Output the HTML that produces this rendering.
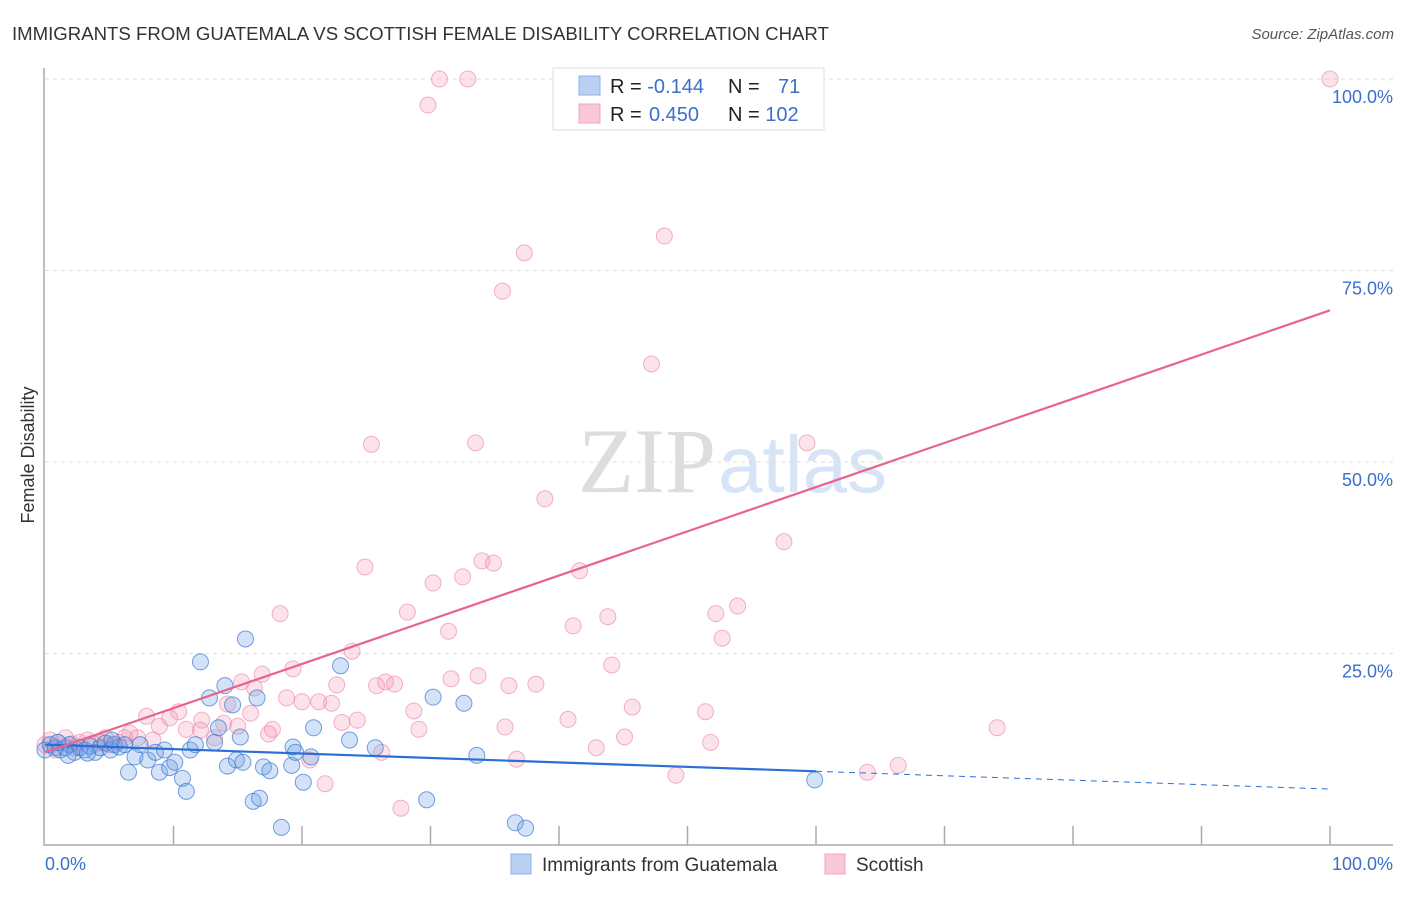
<!DOCTYPE html>
<html><head><meta charset="utf-8"><style>
body{margin:0;background:#fff;font-family:"Liberation Sans",sans-serif;}
svg text{font-family:"Liberation Sans",sans-serif;}
</style></head><body>
<svg width="1406" height="892" xmlns="http://www.w3.org/2000/svg">
<text x="12" y="40" font-size="18.6" fill="#333">IMMIGRANTS FROM GUATEMALA VS SCOTTISH FEMALE DISABILITY CORRELATION CHART</text>
<text x="1394" y="39" font-size="15" fill="#555" font-style="italic" text-anchor="end">Source: ZipAtlas.com</text>
<text x="716" y="492" font-size="92" fill="#ddd" text-anchor="end" style="font-family:'Liberation Serif',serif">ZIP</text>
<text x="718" y="492" font-size="80" fill="#d6e4f6">atlas</text>
<g id="grid"></g>
<g id="axes"></g>
<text transform="translate(34,455) rotate(-90)" font-size="18" fill="#333" text-anchor="middle">Female Disability</text>
<g id="pts"></g>
<g id="lines"></g>
<g>
<rect x="553" y="68" width="271" height="62" fill="#fff" stroke="#ddd"/>
<rect x="579" y="76" width="21" height="19" fill="#b9d0f3" stroke="#8fb2e8"/>
<rect x="579" y="104" width="21" height="19" fill="#f9c8d6" stroke="#f0a4bb"/>
<text x="610" y="93" font-size="20" fill="#222">R = <tspan fill="#3a6fcc">-0.144</tspan></text>
<text x="728" y="93" font-size="20" fill="#222">N = <tspan fill="#3a6fcc" x="778">71</tspan></text>
<text x="610" y="121" font-size="20" fill="#222">R = <tspan fill="#3a6fcc" x="649">0.450</tspan></text>
<text x="728" y="121" font-size="20" fill="#222">N = <tspan fill="#3a6fcc">102</tspan></text>
</g>
<g>
<rect x="511" y="854" width="20" height="20" fill="#b9d0f3" stroke="#8fb2e8"/>
<text x="542" y="871" font-size="19" fill="#333">Immigrants from Guatemala</text>
<rect x="825" y="854" width="20" height="20" fill="#f9c8d6" stroke="#f0a4bb"/>
<text x="856" y="871" font-size="19" fill="#333">Scottish</text>
</g>
</svg>
<script>
const yTicks=[25,50,75,100];
const yTickLabels=["25.0%","50.0%","75.0%","100.0%"];
const xTickLabels=["0.0%","100.0%"];
const blueX=[0,0.4,0.8,1.2,1.6,1.9,2.3,2.7,3.1,3.5,3.9,4.3,4.7,5.1,5.4,5.8,6.5,7.0,7.4,8.0,8.6,8.9,9.3,9.7,10.1,10.7,11.0,11.3,11.7,12.1,12.8,13.2,13.5,14.0,14.2,14.6,14.9,15.2,15.4,15.6,16.2,16.5,16.7,17.0,17.5,18.4,19.3,19.2,19.5,20.1,20.7,20.9,23.0,23.7,25.7,29.7,30.2,32.6,33.6,36.6,37.4,59.9,1.0,1.8,3.3,5.2,6.2];
const blueY=[12.4,13.1,12.7,12.4,12.7,13.1,12.1,12.7,12.4,12.9,12.1,12.7,13.3,12.4,13.1,12.8,9.5,11.5,13.1,11.1,12.1,9.5,12.4,10.1,10.8,8.7,7.0,12.4,13.1,23.9,19.2,13.4,15.3,20.8,10.3,18.3,11.1,14.1,10.8,26.9,5.7,19.2,6.1,10.2,9.7,2.3,12.8,10.4,12.1,8.2,11.5,15.3,23.4,13.7,12.7,5.9,19.3,18.5,11.7,2.9,2.2,8.5,13.4,11.7,12.0,13.7,13.1];
const pinkX=[100,30.7,32.9,55.3,29.8,48.2,37.3,35.6,47.2,25.4,33.5,59.3,38.9,57.5,24.9,34.0,34.9,41.6,30.2,32.5,28.2,18.3,53.9,52.2,43.8,41.1,31.4,52.7,23.9,44.1,19.3,16.9,33.7,31.6,38.2,36.1,25.8,26.5,27.2,22.7,15.3,16.3,18.8,20.0,21.3,22.3,14.2,45.7,28.7,51.4,10.4,7.9,9.7,16.0,12.2,40.7,24.3,23.1,13.9,15.0,8.9,11.0,35.8,17.7,29.1,74.1,17.4,6.6,6.2,8.4,45.1,51.8,42.9,26.2,20.6,36.7,66.4,64.0,49.1,21.8,27.7,0.4,1.0,1.6,2.1,2.7,3.3,3.9,4.4,5.1,5.7,7.2,0,0.8,2.3,4.7,12.1,13.2];
const pinkY=[100,100,100,100,96.6,79.5,77.3,72.3,62.8,52.3,52.5,52.5,45.2,39.6,36.3,37.1,36.8,35.8,34.2,35.0,30.4,30.2,31.2,30.2,29.8,28.6,27.9,27.0,25.3,23.5,23.0,22.3,22.1,21.7,21.0,20.8,20.8,21.3,21.0,20.9,21.3,20.5,19.2,18.7,18.7,18.5,18.4,18.0,17.5,17.4,17.4,16.8,16.6,17.2,16.3,16.4,16.3,16.0,15.9,15.5,15.5,15.1,15.4,15.1,15.1,15.3,14.5,14.6,14.0,13.7,14.1,13.4,12.7,12.1,11.1,11.2,10.4,9.5,9.1,8.0,4.8,13.7,13.4,14.0,13.2,13.4,13.7,13.1,13.4,13.1,13.4,14.0,13.1,12.4,12.7,14.0,15.0,14.0];
const blueFit=[13.1,-0.058]; const blueSolidEnd=60;
const pinkFit=[12.1,0.577];
const X=v=>45+v*12.85, Y=v=>845-v*7.66;
const NS="http://www.w3.org/2000/svg";
function mk(t,a,p){const e=document.createElementNS(NS,t);for(const k in a)e.setAttribute(k,a[k]);p.appendChild(e);return e;}
const grid=document.getElementById('grid'),axes=document.getElementById('axes');
yTicks.forEach((t,i)=>{
 const l=mk('line',{x1:45,x2:1393,y1:Y(t),y2:Y(t),stroke:'#ddd','stroke-dasharray':'4,4'},grid);
 
 
 const tx=mk('text',{x:1393,y:Y(t)+24,'font-size':18,fill:'#3a6fcc','text-anchor':'end'},axes);
 tx.textContent=yTickLabels[i];
 
 
});
const ax=mk('path',{d:'M44,68 L44,845 L1393,845',fill:'none',stroke:'#aaa','stroke-width':1.5},axes);


for(let k=1;k<=10;k++){const t=mk('line',{x1:X(k*10),x2:X(k*10),y1:826,y2:845,stroke:'#aaa','stroke-width':1.5},axes);
 
 }
const xl0=mk('text',{x:45,y:870,'font-size':18,fill:'#3a6fcc'},axes);xl0.textContent=xTickLabels[0];


const xl1=mk('text',{x:1393,y:870,'font-size':18,fill:'#3a6fcc','text-anchor':'end'},axes);xl1.textContent=xTickLabels[1];


const pts=document.getElementById('pts');
pinkX.forEach((x,i)=>{const c=mk('circle',{cx:X(x),cy:Y(pinkY[i]),r:8,fill:'rgba(244,150,180,0.28)',stroke:'rgba(235,130,165,0.6)','stroke-width':1},pts);
 
 });
blueX.forEach((x,i)=>{const c=mk('circle',{cx:X(x),cy:Y(blueY[i]),r:8,fill:'rgba(110,160,230,0.3)',stroke:'rgba(60,120,210,0.7)','stroke-width':1},pts);
 
 });
const lines=document.getElementById('lines');
const bf=v=>blueFit[0]+blueFit[1]*v, pf=v=>pinkFit[0]+pinkFit[1]*v;
const b1=mk('line',{x1:X(0),y1:Y(bf(0)),x2:X(blueSolidEnd),y2:Y(bf(blueSolidEnd)),stroke:'#2b6fd6','stroke-width':2.2},lines);


const b2=mk('line',{x1:X(blueSolidEnd),y1:Y(bf(blueSolidEnd)),x2:X(100),y2:Y(bf(100)),stroke:'#2b6fd6','stroke-width':1,'stroke-dasharray':'6,5'},lines);


const p1=mk('line',{x1:X(0),y1:Y(pf(0)),x2:X(100),y2:Y(pf(100)),stroke:'#e8648f','stroke-width':2.2},lines);


</script>
</body></html>
